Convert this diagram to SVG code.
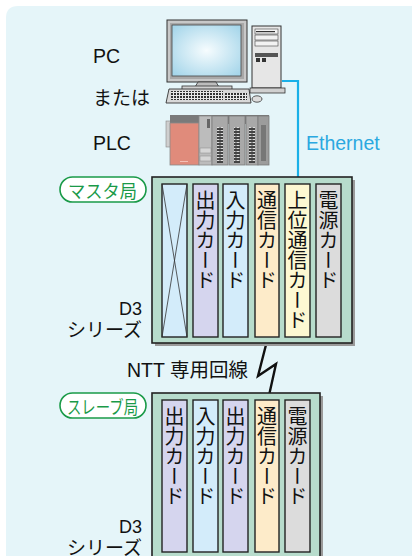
<svg xmlns="http://www.w3.org/2000/svg" width="412" height="556" viewBox="0 0 412 556">
  <defs>
    <radialGradient id="screenGlow" cx="0.5" cy="0.5" r="0.65">
      <stop offset="0" stop-color="#f6fcfe"/>
      <stop offset="1" stop-color="#a6d6ea"/>
    </radialGradient>
    <pattern id="keys" x="0" y="0" width="3" height="3" patternUnits="userSpaceOnUse">
      <rect width="3" height="3" fill="#e8e8e8"/>
      <rect x="0" y="0" width="2" height="2" fill="#333"/>
    </pattern>
    <pattern id="terminals" x="0" y="0" width="4" height="3" patternUnits="userSpaceOnUse">
      <rect width="4" height="3" fill="#444"/>
      <rect x="0.5" y="1" width="3" height="1" fill="#ddd"/>
    </pattern>
  </defs>
  <style>
    .lbl { font-family: "Liberation Sans", "Noto Sans CJK JP", sans-serif; font-size: 19.5px; fill: #111; }
    .jp { font-family: "Noto Sans CJK JP", "Liberation Sans", sans-serif; font-size: 19px; fill: #111; }
    .pill { fill: #fff; stroke: #1a9a48; stroke-width: 1.6; }
    .pilltext { font-family: "Noto Sans CJK JP", sans-serif; font-size: 18px; fill: #1a9a48; }
    .rack { fill: #b7dccc; stroke: #222; stroke-width: 1.6; }
    .shadow { fill: #9a9a9a; }
    .card { stroke: #222; stroke-width: 1.4; }
    .c-blue { fill: #d3ecfa; }
    .c-lav { fill: #d5d5ee; }
    .c-peach { fill: #fdebc9; }
    .c-yellow { fill: #fdf8d2; }
    .c-gray { fill: #dcdcdc; }
    .vtext { font-family: "Noto Sans CJK JP", sans-serif; font-size: 20px; fill: #111; writing-mode: vertical-rl; }
    .eth { fill: none; stroke: #1ab0e8; stroke-width: 2.2; }
    .line { fill: none; stroke: #111; stroke-width: 2.4; stroke-linejoin: miter; }
  </style>

  <!-- page background panel -->
  <rect x="0" y="0" width="412" height="556" fill="#ffffff"/>
  <path d="M6 18 Q6 6 18 6 L412 6 L412 556 L6 556 Z" fill="#e5f5f9"/>

  <!-- host computer -->
  <g id="pc">
    <rect x="167" y="20" width="80" height="62" fill="#c8c8c8" stroke="#333" stroke-width="1"/>
    <rect x="170" y="23" width="74" height="56" fill="#a8a8a8"/>
    <rect x="172" y="25" width="69" height="51" fill="url(#screenGlow)" stroke="#444" stroke-width="0.8"/>
    <polygon points="198,82 216,82 219,87 195,87" fill="#bdbdbd" stroke="#333" stroke-width="0.8"/>
    <rect x="182" y="86" width="50" height="4" fill="#d0d0d0" stroke="#333" stroke-width="0.8"/>
    <polygon points="169,89 249,89 251,103 166,103" fill="#d8d8d8" stroke="#333" stroke-width="0.9"/>
    <rect x="171" y="91" width="52" height="9" fill="url(#keys)"/>
    <rect x="225" y="93" width="22" height="7" fill="url(#keys)"/>
    <ellipse cx="257" cy="99" rx="5" ry="3.2" fill="#ddd" stroke="#333" stroke-width="0.8"/>
    <rect x="252" y="26" width="29" height="62" fill="#e6e6e6" stroke="#333" stroke-width="1"/>
    <rect x="255" y="29" width="23" height="5" fill="#f2f2f2" stroke="#444" stroke-width="0.6"/>
    <rect x="256" y="31" width="19" height="1.2" fill="#333"/>
    <rect x="255" y="35" width="23" height="5" fill="#f2f2f2" stroke="#444" stroke-width="0.6"/>
    <rect x="255" y="41" width="23" height="5" fill="#f2f2f2" stroke="#444" stroke-width="0.6"/>
    <rect x="255" y="53" width="23" height="4" fill="#555"/>
    <rect x="256" y="58" width="4" height="4" fill="#333"/>
    <rect x="262" y="58" width="4" height="4" fill="#333"/>
    <rect x="250" y="88" width="35" height="5" fill="#d0d0d0" stroke="#333" stroke-width="0.8"/>
  </g>

  <!-- programmable controller -->
  <g id="plc">
    <rect x="166" y="121" width="6" height="26" fill="#cfcfcf" stroke="#888" stroke-width="0.6"/>
    <rect x="170" y="115" width="99" height="9" fill="#7a7a7a"/>
    <rect x="170" y="123" width="29" height="42" fill="#e08b7b" stroke="#8a8a8a" stroke-width="0.8"/>
    <rect x="180" y="161" width="8" height="1" fill="#f4c0b6"/>
    <rect x="199" y="116" width="13" height="49" fill="#bcbcbc" stroke="#8a8a8a" stroke-width="0.8"/>
    <rect x="207" y="119" width="3" height="9" fill="#666"/>
    <rect x="200" y="148" width="11" height="5" fill="#d6d6d6" stroke="#888" stroke-width="0.5"/>
    <rect x="200" y="156" width="11" height="5" fill="#d6d6d6" stroke="#888" stroke-width="0.5"/>
    <rect x="212" y="116" width="16" height="49" fill="#a9a9a9" stroke="#7a7a7a" stroke-width="0.8"/>
    <rect x="217" y="127" width="6" height="36" fill="url(#terminals)"/>
    <rect x="229" y="116" width="16" height="49" fill="#a9a9a9" stroke="#7a7a7a" stroke-width="0.8"/>
    <rect x="234" y="127" width="6" height="36" fill="url(#terminals)"/>
    <rect x="246" y="116" width="12" height="49" fill="#a9a9a9" stroke="#7a7a7a" stroke-width="0.8"/>
    <rect x="249" y="127" width="6" height="36" fill="url(#terminals)"/>
    <rect x="258" y="116" width="11" height="49" fill="#9c9c9c" stroke="#7a7a7a" stroke-width="0.8"/>
    <rect x="261" y="125" width="5" height="36" fill="#777"/>
  </g>

  <!-- labels beside the host -->
  <g id="host-labels">
    <text class="lbl" x="93" y="62.5">PC</text>
    <text class="jp" x="93" y="105">または</text>
    <text class="lbl" x="93" y="150">PLC</text>
    <text class="lbl" x="306" y="150" style="fill:#2aa8e0">Ethernet</text>
  </g>

  <!-- connectors -->
  <g id="connectors">
    <polyline class="eth" points="282,81 298,81 298,184"/>
    <polyline class="line" points="268,337 258,376 276,364 268,400"/>
  </g>

  <!-- master station rack -->
  <g id="master">
    <rect class="shadow" x="155" y="180" width="200" height="166"/>
    <rect class="rack" x="152" y="177" width="200" height="166"/>
    <rect class="card c-blue" x="162" y="184" width="25" height="153"/>
    <line x1="162" y1="184" x2="187" y2="337" stroke="#333" stroke-width="0.8"/>
    <line x1="187" y1="184" x2="162" y2="337" stroke="#333" stroke-width="0.8"/>
    <rect class="card c-lav" x="193" y="184" width="25" height="153"/>
    <text class="vtext" x="205.5" y="190">出力カード</text>
    <rect class="card c-blue" x="223" y="184" width="25" height="153"/>
    <text class="vtext" x="235.5" y="190">入力カード</text>
    <rect class="card c-peach" x="255" y="184" width="24" height="153"/>
    <text class="vtext" x="267" y="190">通信カード</text>
    <rect class="card c-yellow" x="285" y="184" width="25" height="153"/>
    <text class="vtext" x="297.5" y="190">上位通信カード</text>
    <rect class="card c-gray" x="316" y="184" width="25" height="153"/>
    <text class="vtext" x="328.5" y="190">電源カード</text>
  </g>
  <g id="master-tag">
    <rect class="pill" x="60" y="177" width="86" height="25" rx="12.5"/>
    <text class="pilltext" x="68" y="198" textLength="69" lengthAdjust="spacingAndGlyphs">マスタ局</text>
  </g>
  <g id="master-series">
    <text class="lbl" x="142" y="314.5" text-anchor="end" style="font-size:18px">D3</text>
    <text class="jp" x="142" y="337" text-anchor="end">シリーズ</text>
  </g>

  <!-- line label -->
  <text id="line-label" class="lbl" x="127" y="377">NTT 専用回線</text>

  <!-- slave station rack -->
  <g id="slave">
    <rect class="shadow" x="155" y="396" width="168" height="166"/>
    <rect class="rack" x="152" y="393" width="168" height="166"/>
    <rect class="card c-lav" x="162" y="400" width="25" height="152"/>
    <text class="vtext" x="174.5" y="406">出力カード</text>
    <rect class="card c-blue" x="193" y="400" width="25" height="152"/>
    <text class="vtext" x="205.5" y="406">入力カード</text>
    <rect class="card c-lav" x="223" y="400" width="25" height="152"/>
    <text class="vtext" x="235.5" y="406">出力カード</text>
    <rect class="card c-peach" x="255" y="400" width="24" height="152"/>
    <text class="vtext" x="267" y="406">通信カード</text>
    <rect class="card c-gray" x="285" y="400" width="25" height="152"/>
    <text class="vtext" x="297.5" y="406">電源カード</text>
  </g>
  <g id="slave-tag">
    <rect class="pill" x="60" y="393" width="86" height="25" rx="12.5"/>
    <text class="pilltext" x="67" y="414" textLength="71" lengthAdjust="spacingAndGlyphs">スレーブ局</text>
  </g>
  <g id="slave-series">
    <text class="lbl" x="142" y="533" text-anchor="end" style="font-size:18px">D3</text>
    <text class="jp" x="142" y="555" text-anchor="end">シリーズ</text>
  </g>
</svg>
